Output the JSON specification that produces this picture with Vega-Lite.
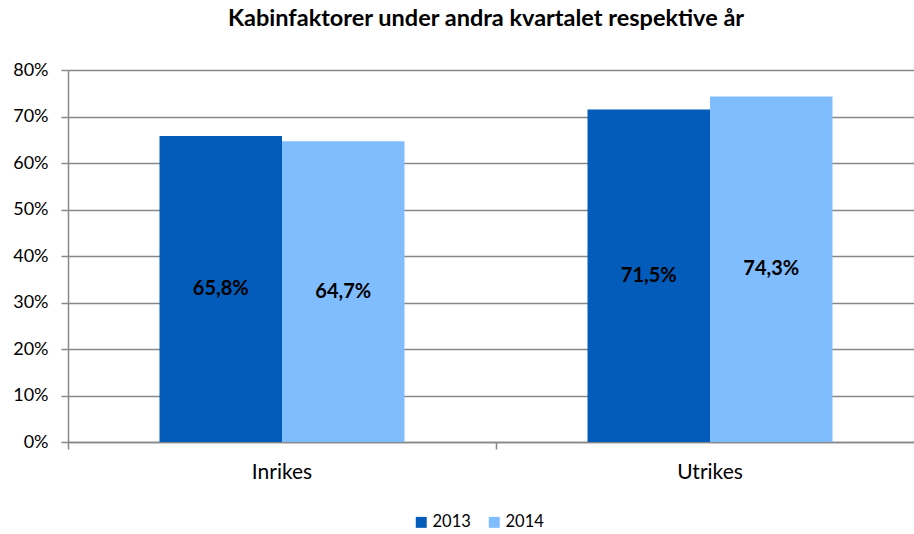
{
  "$schema": "https://vega.github.io/schema/vega-lite/v6.json",
  "width": 856,
  "height": 372,
  "autosize": {"type": "none"},
  "padding": {"left": 68, "top": 70, "right": 0, "bottom": 92},
  "background": "white",
  "title": {
    "text": "Kabinfaktorer under andra kvartalet respektive år",
    "font": "Lato",
    "fontSize": 23.5,
    "fontWeight": "bold",
    "color": "#000000",
    "anchor": "start",
    "dx": 160,
    "offset": 31,
    "frame": "group"
  },
  "config": {
    "locale": {
      "number": {"decimal": ",", "thousands": " ", "grouping": [3], "currency": ["", " kr"]}
    },
    "view": {"stroke": null},
    "font": "Lato"
  },
  "data": {
    "values": [
      {"kategori": "Inrikes", "år": "2013", "v": 0.658},
      {"kategori": "Inrikes", "år": "2014", "v": 0.647},
      {"kategori": "Utrikes", "år": "2013", "v": 0.715},
      {"kategori": "Utrikes", "år": "2014", "v": 0.743}
    ]
  },
  "transform": [{"calculate": "datum.v / 2", "as": "mid"}],
  "encoding": {
    "x": {
      "field": "kategori",
      "type": "nominal",
      "sort": null,
      "scale": {"paddingInner": 0, "paddingOuter": 0},
      "axis": {
        "title": null,
        "labelAngle": 0,
        "labelFontSize": 21,
        "labelColor": "#000000",
        "labelPadding": 12,
        "domainColor": "#888888",
        "domainWidth": 1.5,
        "tickColor": "#888888",
        "tickWidth": 1.5,
        "tickSize": 7,
        "bandPosition": 0
      }
    },
    "xOffset": {"field": "år", "type": "nominal", "scale": {"paddingInner": 0, "paddingOuter": 0.747}}
  },
  "layer": [
    {
      "mark": {"type": "bar"},
      "encoding": {
        "y": {
          "field": "v",
          "type": "quantitative",
          "scale": {"domain": [0, 0.8], "nice": false},
          "axis": {
            "title": null,
            "format": ".0%",
            "values": [0, 0.1, 0.2, 0.3, 0.4, 0.5, 0.6, 0.7, 0.8],
            "labelOverlap": false,
            "labelFontSize": 18,
            "labelColor": "#000000",
            "labelPadding": 13,
            "domainColor": "#888888",
            "domainWidth": 1.5,
            "tickColor": "#888888",
            "tickWidth": 1.5,
            "tickSize": 7,
            "grid": true,
            "gridColor": "#888888",
            "gridWidth": 1.5
          }
        },
        "color": {
          "field": "år",
          "type": "nominal",
          "scale": {"domain": ["2013", "2014"], "range": ["#035bba", "#80bdff"]},
          "legend": {
            "title": null,
            "orient": "none",
            "direction": "horizontal",
            "legendX": 345,
            "legendY": 444,
            "symbolType": "square",
            "symbolSize": 120,
            "symbolStrokeWidth": 0,
            "labelFontSize": 16.5,
            "labelColor": "#000000",
            "labelOffset": 3,
            "columnPadding": 15
          }
        }
      }
    },
    {
      "mark": {"type": "text", "fontSize": 20, "fontWeight": "bold", "color": "#000000"},
      "encoding": {
        "y": {"field": "mid", "type": "quantitative", "axis": null},
        "text": {"field": "v", "type": "quantitative", "format": ".1%"}
      }
    }
  ],
  "resolve": {"axis": {"y": "independent"}}
}
